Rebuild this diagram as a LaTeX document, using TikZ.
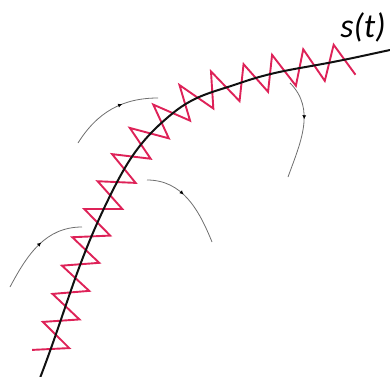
\documentclass[tikz,border=0pt]{standalone}
\usepackage{fontspec}
\setsansfont{Carlito}
\usetikzlibrary{arrows.meta,decorations.pathmorphing,decorations.markings}
\definecolor{Crimson}{HTML}{DE2258}
\definecolor{Path}{HTML}{111111}
\definecolor{Orbit}{HTML}{6E6E6E}

% zigzag that starts on the outer side and ends on the inner side
\pgfdeclaredecoration{sawzig}{start}{
  \state{start}[width=0pt,next state=tooth]{
    \pgfpathmoveto{\pgfqpoint{0pt}{\pgfdecorationsegmentamplitude}}
  }
  \state{tooth}[width=\pgfdecorationsegmentlength]{
    \pgfpathlineto{\pgfqpoint{0.5\pgfdecorationsegmentlength}{-\pgfdecorationsegmentamplitude}}
    \pgfpathlineto{\pgfqpoint{\pgfdecorationsegmentlength}{\pgfdecorationsegmentamplitude}}
  }
  \state{final}{
    \pgfpathlineto{\pgfqpoint{\pgfdecoratedremainingdistance}{-\pgfdecorationsegmentamplitude}}
  }
}

\begin{document}
\begin{tikzpicture}[x=1pt,y=1pt,
    track/.style={line width=2pt,Path},
    spring/.style={line width=1.9pt,Crimson,line join=miter,
      decorate,decoration={sawzig,segment length=30pt,amplitude=17pt}},
    orbit/.style={line width=0.8pt,Orbit,postaction={decorate},
      decoration={markings,mark=at position #1 with {\arrow[black]{Latex[length=4pt,width=4pt]}}}},
    orbit/.default=0.5,
    lbl/.style={font=\sffamily\itshape\fontsize{34}{34}\selectfont,inner sep=0pt}
  ]
    \useasboundingbox (0,0) rectangle (390,376);
    % points on the trajectory
    \coordinate (p0) at (40,-2);
    \coordinate (s0) at (48,20);
    \coordinate (p1) at (108,176);
    \coordinate (p2) at (173,263);
    \coordinate (p3) at (240,293);
    \coordinate (p4) at (333,314);
    \coordinate (s5) at (352,318);
    \coordinate (p5) at (390,326);
    % spring along the trajectory
    \draw[spring] (s0) to[out=69,in=244] (p1) to[out=64,in=219] (p2)
      to[out=39,in=199] (p3) to[out=19,in=191] (p4) to[out=11,in=191] (s5);
    % trajectory
    \draw[track] (p0) to[out=69,in=244] (p1) to[out=64,in=219] (p2)
      to[out=39,in=199] (p3) to[out=19,in=191] (p4) to[out=11,in=192] (p5);
    \node[lbl] (st) at (363,349) {s(t)};
    % orbits
    \coordinate (o1a) at (10,89);   \coordinate (o1b) at (82,149);
    \coordinate (o2a) at (147,196); \coordinate (o2b) at (212,134);
    \coordinate (o3a) at (78,233);  \coordinate (o3b) at (158,278);
    \coordinate (o4a) at (290,293); \coordinate (o4b) at (288,199);
    \draw[orbit=0.55] (o1a) to[out=62,in=180] (o1b);
    \draw[orbit=0.42] (o2a) to[out=0,in=112] (o2b);
    \draw[orbit=0.62] (o3a) to[out=58,in=180] (o3b);
    \draw[orbit=0.4] (o4a) to[out=-45,in=70] (o4b);
  \end{tikzpicture}
\end{document}
